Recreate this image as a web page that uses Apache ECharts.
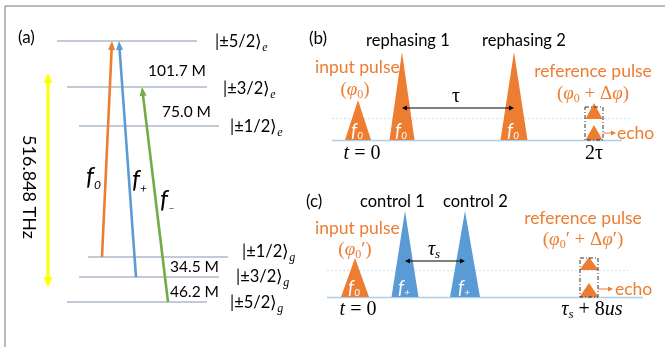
<!DOCTYPE html>
<html><head><meta charset="utf-8">
<script src="https://cdn.jsdelivr.net/npm/echarts@6/dist/echarts.min.js"></script>
<style>html,body{margin:0;padding:0;background:#fff}#c{width:665px;height:347px}</style>
</head><body><div id="c"></div>
<script>
// ---------- Panel (a): hyperfine levels ----------
const levelNames = ['±5/2', '±3/2', '±1/2', '±1/2', '±3/2', '±5/2'];
const levelSubs  = ['e', 'e', 'e', 'g', 'g', 'g'];
const levelY     = [41, 87, 126, 257, 277, 302];
const levelStart = [57, 67, 79, 88, 79, 67];
const levelEnd   = [197, 207, 219, 228, 219, 207];
const levelLabelX = [215, 223, 230, 242, 236, 230];
const levelLabelY = [42, 89, 127, 252, 277, 303];
const splitLabels = ['101.7 M', '75.0 M', '34.5 M', '46.2 M'];
const splitX = [148, 162, 170, 170];
const splitY = [71, 112, 267, 292];
const opticalLabel = '516.848 THz';
const opticalSpan = [73, 287];
// transitions f0, f+, f- : [fromX, fromY, toX, toY]
const transNames = ['0', '+', '–'];
const transFrom = [[102, 257], [136, 277], [168, 302]];
const transTo   = [[112, 41], [119, 41], [142, 87]];

// ---------- Panel (b): rephasing sequence ----------
const bCenters = [358, 402, 514, 594, 594];
const bHalfW   = [13, 12.5, 13.5, 8.5, 8.5];
const bBase    = [140, 140, 140, 119, 140];
const bPeak    = [100, 52, 52, 103, 125];
const bLabels  = ['0', '0', '0', '', ''];
// ---------- Panel (c): control sequence ----------
const cCenters = [355, 405, 465, 589, 589];
const cHalfW   = [14, 13.5, 15, 9.5, 9.5];
const cBase    = [297, 297, 297, 270, 297];
const cPeak    = [258, 211, 211, 257, 283];
const cLabels  = ['0', '+', '+', '', ''];
const cKinds   = ['o', 'b', 'b', 'o', 'o'];

const C = {orange:'#ed7d31', blue:'#5b9bd5', green:'#70ad47', level:'#8497b0', yellow:'#ffff00', black:'#000000', border:'#767676'};
const SANS = 'Lato, "Open Sans", sans-serif';
const SERIF = '"Liberation Serif", "DejaVu Serif", serif';

// ---------- segments (lines series) ----------
const segs = [];
levelY.forEach((y, i) => segs.push({coords: [[levelStart[i], y], [levelEnd[i], y]], lineStyle: {color: C.level, width: 1.8}}));
segs.push({coords: [[332, 140], [622, 140]], lineStyle: {color: C.blue, width: 1.3}});
segs.push({coords: [[332, 118], [630, 118]], lineStyle: {color: '#9dc3e6', width: 1.2, type: [2, 2]}});
segs.push({coords: [[327, 297], [643, 297]], lineStyle: {color: C.blue, width: 1.3}});
segs.push({coords: [[327, 270], [628, 270]], lineStyle: {color: '#9dc3e6', width: 1.2, type: [2, 2]}});
segs.push({coords: [[5, 6], [665, 6]], lineStyle: {color: C.border, width: 2}});
segs.push({coords: [[5, 6], [5, 347]], lineStyle: {color: C.border, width: 2}});

// ---------- arrows: [x1,y1,x2,y2,color,width,headL,headW,double] ----------
const arrows = [];
const tColors = [C.orange, C.blue, C.green];
transFrom.forEach((f, i) => arrows.push([f[0], f[1], transTo[i][0], transTo[i][1], tColors[i], 2.6, 9, 7, 0]));
arrows.push([48, opticalSpan[1], 48, opticalSpan[0], C.yellow, 3, 10, 9, 1]);
arrows.push([bCenters[1], 108, bCenters[2], 108, C.black, 1.2, 5, 5, 1]);
arrows.push([cCenters[1], 261, cCenters[2], 261, C.black, 1.2, 5, 5, 1]);
arrows.push([603, 133, 616, 133, C.orange, 1, 5, 5, 0]);
arrows.push([598, 289, 613, 289, C.orange, 1, 5, 5, 0]);

// ---------- triangles: [cx, hw, base, peak, colorKind, label] ----------
const tris = [];
bCenters.forEach((c, i) => tris.push([c, bHalfW[i], bBase[i], bPeak[i], 'o', bLabels[i]]));
cCenters.forEach((c, i) => tris.push([c, cHalfW[i], cBase[i], cPeak[i], cKinds[i], cLabels[i]]));

// ---------- texts ----------
const rich = {
  n: {fontFamily: SANS, fontSize: 15.5, fill: C.black, lineHeight: 22},
  t: {fontFamily: SANS, fontSize: 18, fill: C.black, lineHeight: 22},
  m: {fontFamily: SANS, fontSize: 16.5, fill: C.black, lineHeight: 24},
  s: {fontFamily: SERIF, fontStyle: 'italic', fontSize: 12, fill: C.black, lineHeight: 10, verticalAlign: 'bottom'},
  F: {fontFamily: SANS, fontStyle: 'italic', fontSize: 25, fill: C.black, lineHeight: 28},
  Fs: {fontFamily: SANS, fontStyle: 'italic', fontSize: 12, fill: C.black, lineHeight: 8, verticalAlign: 'bottom'},
  o: {fontFamily: SANS, fontSize: 17.5, fill: C.orange, lineHeight: 22},
  oi: {fontFamily: SERIF, fontStyle: 'italic', fontSize: 19, fill: C.orange, lineHeight: 22},
  or: {fontFamily: SERIF, fontSize: 19, fill: C.orange, lineHeight: 22},
  os: {fontFamily: SERIF, fontSize: 12, fill: C.orange, lineHeight: 10, verticalAlign: 'bottom'},
  ki: {fontFamily: SERIF, fontStyle: 'italic', fontSize: 20, fill: C.black, lineHeight: 22},
  kr: {fontFamily: SERIF, fontSize: 20, fill: C.black, lineHeight: 22},
  ks: {fontFamily: SERIF, fontStyle: 'italic', fontSize: 13, fill: C.black, lineHeight: 10, verticalAlign: 'bottom'},
  l: {fontFamily: SANS, fontSize: 17, fill: C.black, lineHeight: 20}
};
// [x, y, richText, align, rotate]
const texts = [
  [18, 38, '{l|(a)}', 'left', 0],
  [309, 39, '{l|(b)}', 'left', 0],
  [306, 202, '{l|(c)}', 'left', 0],
  [29, 187, '{t|' + opticalLabel + '}', 'center', -Math.PI / 2],
  [366, 41, '{m|rephasing 1}', 'left', 0],
  [482, 41, '{m|rephasing 2}', 'left', 0],
  [360, 202, '{m|control 1}', 'left', 0],
  [443, 202, '{m|control 2}', 'left', 0],
  [315, 67, '{o|input pulse}', 'left', 0],
  [355, 90, '{or|(}{oi|φ}{os|0}{or|)}', 'center', 0],
  [593, 71, '{o|reference pulse}', 'center', 0],
  [593, 94, '{or|(}{oi|φ}{os|0}{or| + Δ}{oi|φ}{or|)}', 'center', 0],
  [315, 228, '{o|input pulse}', 'left', 0],
  [355, 250, '{or|(}{oi|φ}{os|0}{or|′)}', 'center', 0],
  [583, 218, '{o|reference pulse}', 'center', 0],
  [583, 240, '{or|(}{oi|φ}{os|0}{or|′ + Δ}{oi|φ}{or|′)}', 'center', 0],
  [617, 133, '{o|echo}', 'left', 0],
  [615, 289, '{o|echo}', 'left', 0],
  [456, 97, '{kr|τ}', 'center', 0],
  [434, 250, '{ki|τ}{ks|s}', 'center', 0],
  [362, 154, '{ki|t}{kr| = 0}', 'center', 0],
  [594, 154, '{kr|2τ}', 'center', 0],
  [358, 310, '{ki|t}{kr| = 0}', 'center', 0],
  [592, 310, '{ki|τ}{ks|s}{kr| + 8}{ki|us}', 'center', 0]
];
levelNames.forEach((n, i) => texts.push([levelLabelX[i], levelLabelY[i], '{m||' + n + '⟩}{s|' + levelSubs[i] + '}', 'left', 0]));
splitLabels.forEach((s, i) => texts.push([splitX[i], splitY[i], '{n|' + s + '}', 'left', 0]));
const fLabelPos = [[86, 177], [132, 180], [160, 200]];
transNames.forEach((s, i) => texts.push([fLabelPos[i][0], fLabelPos[i][1], '{F|f}{Fs|' + s + '}', 'left', 0]));

const chart = echarts.init(document.getElementById('c'));
chart.setOption({
  animation: false,
  grid: {left: 0, right: 0, top: 0, bottom: 0},
  xAxis: {type: 'value', min: 0, max: 665, show: false},
  yAxis: {type: 'value', min: 0, max: 347, inverse: true, show: false},
  series: [
    {type: 'lines', coordinateSystem: 'cartesian2d', polyline: false, silent: true, data: segs, z: 1},
    {type: 'custom', coordinateSystem: 'cartesian2d', z: 2, silent: true,
     data: tris.map((t, i) => [t[0], t[2], i]),
     renderItem: function (params, api) {
       const t = tris[api.value(2)];
       const pl = api.coord([t[0] - t[1], t[2]]);
       const pr = api.coord([t[0] + t[1], t[2]]);
       const pt = api.coord([t[0], t[3]]);
       const col = t[4] === 'b' ? C.blue : C.orange;
       const children = [{type: 'polygon', shape: {points: [pl, pr, pt]}, style: {fill: col, stroke: 'none'}}];
       if (t[5]) {
         children.push({type: 'text', x: (pl[0] + pr[0]) / 2 - 1, y: pl[1] - 9,
           style: {text: '{a|f}{b|' + t[5] + '}', align: 'center', verticalAlign: 'middle',
             rich: {a: {fontFamily: SANS, fontStyle: 'italic', fontSize: 19, fill: '#fff', lineHeight: 20},
                    b: {fontFamily: SANS, fontStyle: 'italic', fontSize: 10, fill: '#fff', lineHeight: 8, verticalAlign: 'bottom'}}}});
       }
       return {type: 'group', children: children};
     }},
    {type: 'custom', coordinateSystem: 'cartesian2d', z: 3, silent: true,
     data: [[585, 603, 107, 140], [580, 598, 258, 297]],
     renderItem: function (params, api) {
       const a = api.coord([api.value(0), api.value(2)]);
       const b = api.coord([api.value(1), api.value(3)]);
       return {type: 'rect', shape: {x: a[0], y: a[1], width: b[0] - a[0], height: b[1] - a[1]},
         style: {fill: 'none', stroke: '#333', lineWidth: 1, lineDash: [4, 2, 1, 2]}};
     }},
    {type: 'custom', coordinateSystem: 'cartesian2d', z: 4, silent: true,
     data: arrows.map((a, i) => [a[0], a[1], i]),
     renderItem: function (params, api) {
       const a = arrows[api.value(2)];
       const p1 = api.coord([a[0], a[1]]), p2 = api.coord([a[2], a[3]]);
       const dx = p2[0] - p1[0], dy = p2[1] - p1[1], len = Math.hypot(dx, dy);
       const ux = dx / len, uy = dy / len, nx = -uy, ny = ux;
       const L = a[6], W = a[7] / 2;
       const head = (tip, sx, sy) => ({type: 'polygon', shape: {points: [
         tip, [tip[0] - sx * L + nx * W, tip[1] - sy * L + ny * W], [tip[0] - sx * L - nx * W, tip[1] - sy * L - ny * W]]},
         style: {fill: a[4]}});
       const s = a[8] ? [p1[0] + ux * (L - 1), p1[1] + uy * (L - 1)] : p1;
       const e = [p2[0] - ux * (L - 1), p2[1] - uy * (L - 1)];
       const ch = [{type: 'line', shape: {x1: s[0], y1: s[1], x2: e[0], y2: e[1]}, style: {stroke: a[4], lineWidth: a[5]}},
                   head(p2, ux, uy)];
       if (a[8]) ch.push(head(p1, -ux, -uy));
       return {type: 'group', children: ch};
     }},
    {type: 'custom', coordinateSystem: 'cartesian2d', z: 5, silent: true,
     data: texts.map((t, i) => [t[0], t[1], i]),
     renderItem: function (params, api) {
       const t = texts[api.value(2)];
       const p = api.coord([t[0], t[1]]);
       return {type: 'text', x: p[0], y: p[1], rotation: t[4],
         style: {text: t[2], rich: rich, align: t[3], verticalAlign: 'middle'}};
     }}
  ]
});
</script></body></html>
